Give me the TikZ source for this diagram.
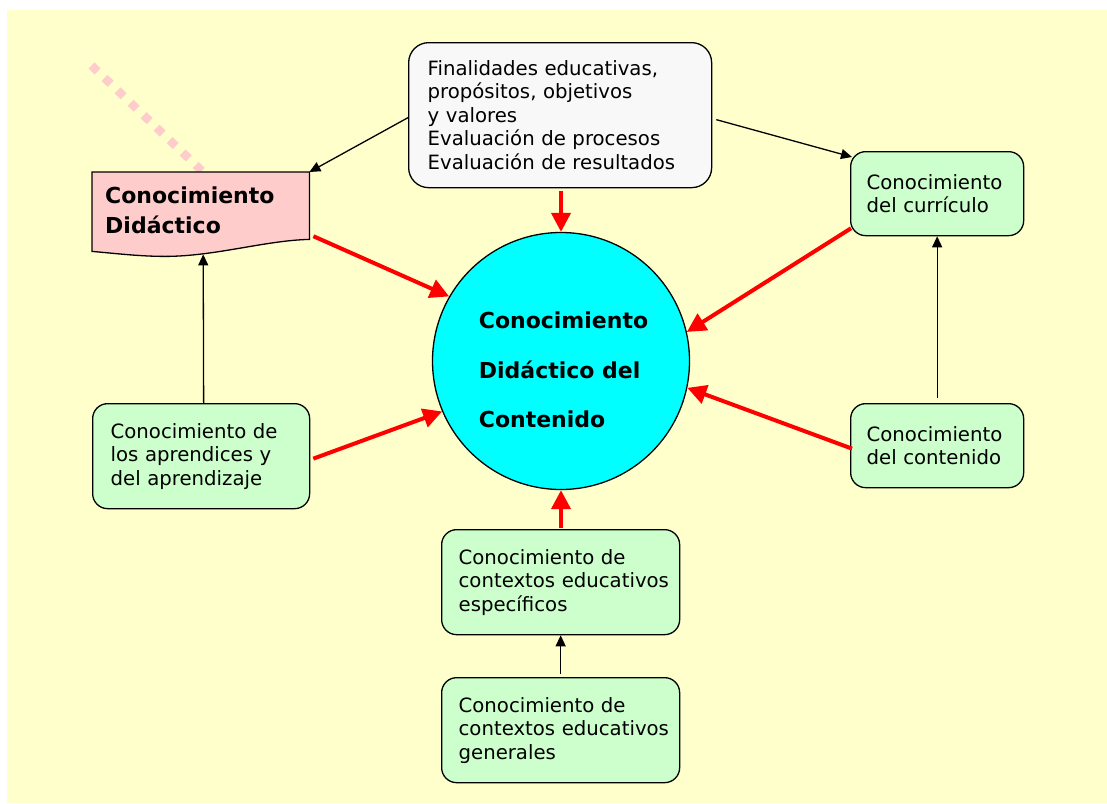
\documentclass[tikz,border=0pt]{standalone}
\usepackage{fontspec}
\setmainfont{DejaVu Sans}
\usetikzlibrary{arrows.meta,calc}
\pgfdeclarelayer{background}
\pgfsetlayers{background,main}
\definecolor{bgyellow}{HTML}{FFFFCC}
\definecolor{boxgreen}{HTML}{CCFFCC}
\definecolor{boxgray}{HTML}{F8F8F8}
\definecolor{boxpink}{HTML}{FFCCCC}
\definecolor{circcyan}{HTML}{00FFFF}
\definecolor{arrred}{HTML}{FF0000}
\begin{document}
\begin{tikzpicture}[x=1pt,y=-1pt,
  txt/.style={font=\fontsize{19.7}{23.5}\selectfont},
  gbox/.style={draw, line width=1.3pt, fill=boxgreen, rounded corners=15pt,
    anchor=north west, align=left, txt, inner ysep=0pt},
  thinarrow/.style={draw=black, line width=1.3pt, -{Triangle[length=11pt,width=10pt]}},
  redarrow/.style={draw=arrred, line width=4pt, -{Triangle[length=19pt,width=19pt]}}
]
\useasboundingbox (0,0) rectangle (1107,803);

% boxes
\node[gbox, fill=boxgray, rounded corners=20pt, inner xsep=19pt, text width=265pt,
  minimum width=303pt, minimum height=145pt] (tb) at (408,42)
  {Finalidades educativas,\\propósitos, objetivos\\y valores\\Evaluación de procesos\\Evaluación de resultados};
\node[gbox, inner xsep=16pt, text width=141pt, minimum width=173pt, minimum height=84pt] (cu) at (850,151)
  {Conocimiento\\del currículo};
\node[gbox, inner xsep=16pt, text width=141pt, minimum width=173pt, minimum height=84pt] (co) at (850,403)
  {Conocimiento\\del contenido};
\node[gbox, inner xsep=18pt, text width=181pt, minimum width=217pt, minimum height=105pt] (lb) at (92,403)
  {Conocimiento de\\los aprendices y\\del aprendizaje};
\node[gbox, inner xsep=17pt, text width=204pt, minimum width=238pt, minimum height=105pt] (b1) at (441,529)
  {Conocimiento de\\\mbox{contextos educativos}\\específicos};
\node[gbox, inner xsep=17pt, text width=204pt, minimum width=238pt, minimum height=105pt] (b2) at (441,677)
  {Conocimiento de\\\mbox{contextos educativos}\\generales};

% document shape text
\node[anchor=north west, minimum width=217pt, minimum height=77pt, inner xsep=13pt, inner ysep=0pt,
  text width=191pt, align=left, font=\bfseries\fontsize{22}{30}\selectfont] (pk) at (92,172)
  {Conocimiento\\Didáctico};

% central circle
\node[circle, draw, line width=1.3pt, fill=circcyan, minimum size=257pt, inner sep=0pt] (c) at (561,361) {};
\node[align=left, font=\bfseries\fontsize{22}{49.5}\selectfont] (ct) at (563.5,370)
  {Conocimiento\\Didáctico del\\Contenido};

\begin{pgfonlayer}{background}
  \fill[bgyellow] (7,10) rectangle (1107,803);
  \coordinate (pd) at (91.5,65.5);
  \coordinate (pe) at (203,172);
  \draw[boxpink, line width=8.5pt, dash pattern=on 8.5pt off 9.5pt] (pd) -- (pe);
  \path[draw, fill=boxpink, line width=1.3pt]
    (pk.north west) -- (pk.north east) -- ([yshift=10pt]pk.south east)
    .. controls +(-44,1) and +(50,0) .. ([xshift=73pt,yshift=-7pt]pk.south west)
    .. controls +(-25,0) and +(23,2) .. ([yshift=-2pt]pk.south west) -- cycle;
\end{pgfonlayer}

% thin black arrows
\draw[thinarrow] ([yshift=-2.5pt]tb.west) -- (pk.north east);
\draw[thinarrow] ([xshift=4pt,yshift=-4.5pt]tb.east) -- ([xshift=2pt,yshift=-6pt]cu.north west);
\draw[thinarrow, shorten <=5pt] (co.north) -- (cu.south);
\draw[thinarrow, shorten <=3pt] (b2.north) -- (b1.south);
\draw[thinarrow] ([xshift=2.5pt]lb.north) -- ([xshift=2.5pt,yshift=-5pt]pk.south);

% red arrows
\draw[redarrow, shorten <=3pt] (c.north |- tb.south) -- (c.north);
\draw[redarrow] ([xshift=4pt,yshift=-25.5pt]pk.east) -- (c.150);
\draw[redarrow] ([xshift=1pt,yshift=8pt]cu.south west) -- (c.13);
\draw[redarrow] ([xshift=2pt,yshift=-3pt]co.west) -- (c.-12);
\draw[redarrow] ([xshift=3pt,yshift=-2.5pt]lb.east) -- (c.203);
\draw[redarrow, shorten <=1pt] (c.south |- b1.north) -- (c.south);
\end{tikzpicture}
\end{document}
